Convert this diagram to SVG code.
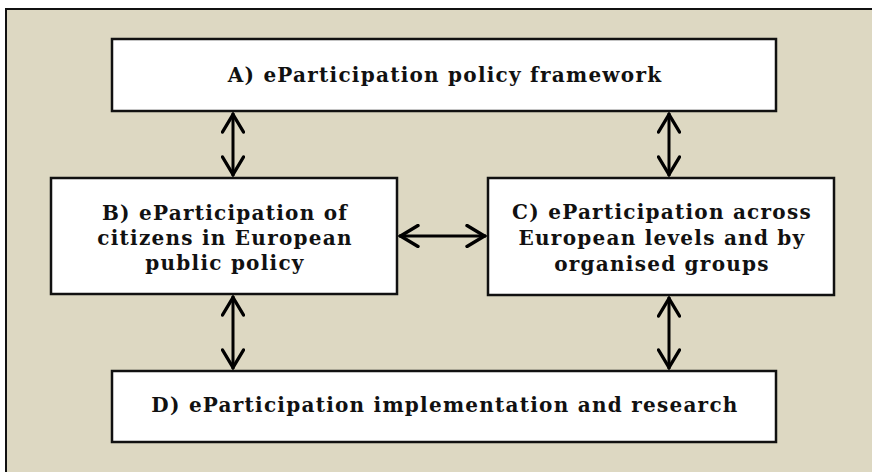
<svg xmlns="http://www.w3.org/2000/svg" width="872" height="472" viewBox="0 0 872 472">
<defs>
<style>
.frame{fill:#DDD8C2;stroke:#111;stroke-width:2}
.box{fill:#fff;stroke:#111;stroke-width:2.5}
.lbl{font-family:"DejaVu Serif","Liberation Serif",serif;font-weight:bold;font-size:20px;letter-spacing:1.25px;fill:#111;text-anchor:middle}
.con{stroke:#000;stroke-width:3;fill:none;marker-start:url(#ah);marker-end:url(#ah)}
</style>
<marker id="ah" viewBox="-24 -12 26 24" markerWidth="26" markerHeight="24" refX="0" refY="0" orient="auto-start-reverse" markerUnits="userSpaceOnUse">
<path d="M-19,-10.5 L-1.5,0 L-19,10.5" fill="none" stroke="#000" stroke-width="3.4" stroke-linecap="round" stroke-linejoin="miter"/>
</marker>
</defs>
<rect class="frame" x="6" y="9" width="880" height="480"/>
<g id="connectors">
<line class="con" x1="233" y1="113" x2="233" y2="176"/>
<line class="con" x1="669" y1="113" x2="669" y2="176"/>
<line class="con" x1="399" y1="236" x2="486" y2="236"/>
<line class="con" x1="233" y1="296" x2="233" y2="369"/>
<line class="con" x1="669" y1="297" x2="669" y2="369"/>
</g>
<g id="A">
<rect class="box" x="112" y="39" width="664" height="72"/>
<text class="lbl" x="445" y="82">A) eParticipation policy framework</text>
</g>
<g id="B">
<rect class="box" x="51" y="178" width="346" height="116"/>
<text class="lbl" x="225" y="220">B) eParticipation of</text>
<text class="lbl" x="225" y="245">citizens in European</text>
<text class="lbl" x="225" y="270">public policy</text>
</g>
<g id="C">
<rect class="box" x="488" y="178" width="346" height="117"/>
<text class="lbl" x="662" y="219">C) eParticipation across</text>
<text class="lbl" x="662" y="245">European levels and by</text>
<text class="lbl" x="662" y="271">organised groups</text>
</g>
<g id="D">
<rect class="box" x="112" y="371" width="664" height="71"/>
<text class="lbl" x="445" y="412">D) eParticipation implementation and research</text>
</g>
</svg>
